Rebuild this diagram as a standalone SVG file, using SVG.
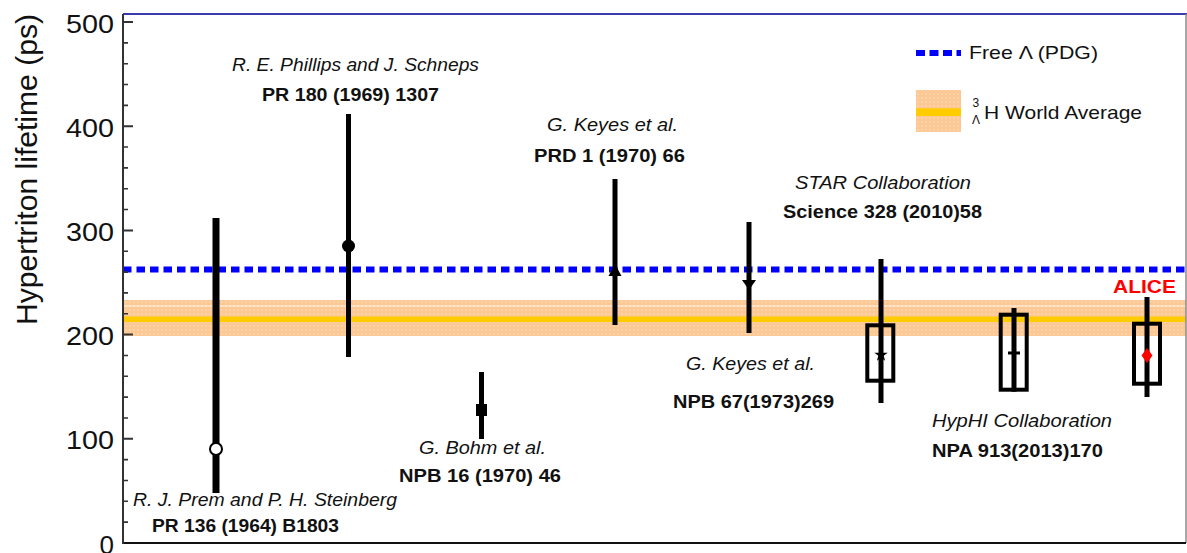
<svg xmlns="http://www.w3.org/2000/svg" width="1187" height="553" viewBox="0 0 1187 553">
<defs>
<pattern id="dots" width="4" height="4" patternUnits="userSpaceOnUse">
<rect width="4" height="4" fill="#FCC894"/>
<rect x="1.4" y="1.4" width="1.1" height="1.1" fill="#FFFFFF" opacity="0.6"/>
</pattern>
<style>
text{font-family:"Liberation Sans",Arial,sans-serif;fill:#111}
.it{font-style:italic;font-size:18px}
.bd{font-weight:bold;font-size:18px}
.tk{font-size:26px}
.leg{font-size:19px}
.bar{stroke:#000;stroke-width:5;fill:none}
.box{stroke:#000;stroke-width:4;fill:none}
.dash{stroke:#0000FF;stroke-width:6;fill:none}
</style>
</defs>
<rect width="1187" height="553" fill="#FFFFFF"/>

<g id="bands">
<rect x="123" y="300" width="1063" height="36" fill="url(#dots)"/>
<line x1="123" y1="306" x2="1186" y2="306" stroke="#FFFFFF" stroke-width="1" opacity="0.8"/>
<line x1="123" y1="319.3" x2="1186" y2="319.3" stroke="#FFCC00" stroke-width="5.5"/>
<line x1="123" y1="269.5" x2="1186" y2="269.5" class="dash" stroke-dasharray="8.5 5"/>
</g>

<g id="frame">
<line x1="123" y1="14" x2="1187" y2="14" stroke="#3A3AAE" stroke-width="2"/>
<line x1="1186" y1="14" x2="1186" y2="543" stroke="#8A8A8A" stroke-width="1.5"/>
<line x1="122" y1="543" x2="1186" y2="543" stroke="#111" stroke-width="2"/>
<line x1="123" y1="14" x2="123" y2="544" stroke="#333" stroke-width="2"/>
<path d="M123 22h10M123 126.2h10M123 230.4h10M123 334.6h10M123 438.8h10" stroke="#333" stroke-width="2" fill="none"/>
<path d="M123 522.16h5M123 501.32h5M123 480.48h5M123 459.64h5M123 417.96h5M123 397.12h5M123 376.28h5M123 355.44h5M123 313.76h5M123 292.92h5M123 272.08h5M123 251.24h5M123 209.56h5M123 188.72h5M123 167.88h5M123 147.04h5M123 105.36h5M123 84.52h5M123 63.68h5M123 42.84h5" stroke="#333" stroke-width="1.6" fill="none"/>
<text class="tk" x="114" y="32.5" text-anchor="end" textLength="48" lengthAdjust="spacingAndGlyphs">500</text>
<text class="tk" x="114" y="136.7" text-anchor="end" textLength="48" lengthAdjust="spacingAndGlyphs">400</text>
<text class="tk" x="114" y="241" text-anchor="end" textLength="48" lengthAdjust="spacingAndGlyphs">300</text>
<text class="tk" x="114" y="345" text-anchor="end" textLength="48" lengthAdjust="spacingAndGlyphs">200</text>
<text class="tk" x="114" y="449" text-anchor="end" textLength="48" lengthAdjust="spacingAndGlyphs">100</text>
<text class="tk" x="114" y="554" text-anchor="end">0</text>
<text transform="translate(37 169.5) rotate(-90)" text-anchor="middle" font-size="30" textLength="311" lengthAdjust="spacingAndGlyphs">Hypertriton lifetime (ps)</text>
</g>

<g id="legend">
<line x1="916" y1="53" x2="961" y2="53" class="dash" stroke-dasharray="9 4.5"/>
<text class="leg" x="969" y="59" textLength="129" lengthAdjust="spacingAndGlyphs">Free Λ (PDG)</text>
<rect x="916" y="90" width="45" height="42" fill="url(#dots)"/>
<rect x="916" y="108.3" width="45" height="7.7" fill="#FFCC00"/>
<text x="972.5" y="107" font-size="12">3</text>
<text x="972" y="124" font-size="12">Λ</text>
<text class="leg" x="984" y="119" textLength="158" lengthAdjust="spacingAndGlyphs">H World Average</text>
</g>

<g id="prem">
<line x1="216" y1="218" x2="216" y2="493" stroke="#000" stroke-width="7"/>
<circle cx="216" cy="449" r="6" fill="#FFFFFF" stroke="#000" stroke-width="2"/>
<text class="it" x="133" y="506" textLength="264" lengthAdjust="spacingAndGlyphs">R. J. Prem and P. H. Steinberg</text>
<text class="bd" x="152" y="532" textLength="187" lengthAdjust="spacingAndGlyphs">PR 136 (1964) B1803</text>
</g>

<g id="phillips">
<line x1="348.5" y1="114" x2="348.5" y2="357" class="bar"/>
<circle cx="348.5" cy="246" r="6.5" fill="#000"/>
<text class="it" x="232" y="71" textLength="247" lengthAdjust="spacingAndGlyphs">R. E. Phillips and J. Schneps</text>
<text class="bd" x="262" y="101" textLength="177" lengthAdjust="spacingAndGlyphs">PR 180 (1969) 1307</text>
</g>

<g id="bohm">
<line x1="481.5" y1="372" x2="481.5" y2="439" class="bar"/>
<rect x="476" y="404" width="11" height="12" fill="#000"/>
<text class="it" x="419" y="454" textLength="127" lengthAdjust="spacingAndGlyphs">G. Bohm et al.</text>
<text class="bd" x="399" y="482" textLength="162" lengthAdjust="spacingAndGlyphs">NPB 16 (1970) 46</text>
</g>

<g id="keyes1970">
<line x1="615" y1="179" x2="615" y2="325" class="bar"/>
<polygon points="615,264 621.5,276 608.5,276" fill="#000"/>
<text class="it" x="547" y="131" textLength="131" lengthAdjust="spacingAndGlyphs">G. Keyes et al.</text>
<text class="bd" x="534" y="162" textLength="151" lengthAdjust="spacingAndGlyphs">PRD 1 (1970) 66</text>
</g>

<g id="keyes1973">
<line x1="749" y1="222" x2="749" y2="333" class="bar"/>
<polygon points="742,280 756,280 749,290" fill="#000"/>
<text class="it" x="686" y="370" textLength="129" lengthAdjust="spacingAndGlyphs">G. Keyes et al.</text>
<text class="bd" x="673" y="408" textLength="161" lengthAdjust="spacingAndGlyphs">NPB 67(1973)269</text>
</g>

<g id="star">
<line x1="881" y1="259" x2="881" y2="403" class="bar"/>
<rect x="867.3" y="325.3" width="26" height="55.4" class="box"/>
<polygon points="881,348 882.65,352.7 887.66,352.84 883.66,355.86 885.11,360.66 881,357.8 876.89,360.66 878.34,355.86 874.34,352.84 879.35,352.7" fill="#000"/>
<text class="it" x="795" y="189" textLength="176" lengthAdjust="spacingAndGlyphs">STAR Collaboration</text>
<text class="bd" x="783" y="218" textLength="199" lengthAdjust="spacingAndGlyphs">Science 328 (2010)58</text>
</g>

<g id="hyphi">
<rect x="1000.7" y="314.7" width="26" height="75" class="box"/>
<line x1="1014" y1="308" x2="1014" y2="391.7" class="bar"/>
<rect x="1008" y="351.5" width="12" height="3" fill="#000"/>
<text class="it" x="932" y="427" textLength="180" lengthAdjust="spacingAndGlyphs">HypHI Collaboration</text>
<text class="bd" x="932" y="457" textLength="171" lengthAdjust="spacingAndGlyphs">NPA 913(2013)170</text>
</g>

<g id="alice">
<line x1="1147" y1="297" x2="1147" y2="397" class="bar"/>
<rect x="1134" y="323.7" width="26" height="60" class="box"/>
<polygon points="1147,348 1152.5,355.5 1147,363 1141.5,355.5" fill="#FF0000"/>
<text x="1113" y="293" font-size="19" font-weight="bold" style="fill:#FF0000" textLength="63" lengthAdjust="spacingAndGlyphs">ALICE</text>
</g>

<g id="connectors"></g>
</svg>
